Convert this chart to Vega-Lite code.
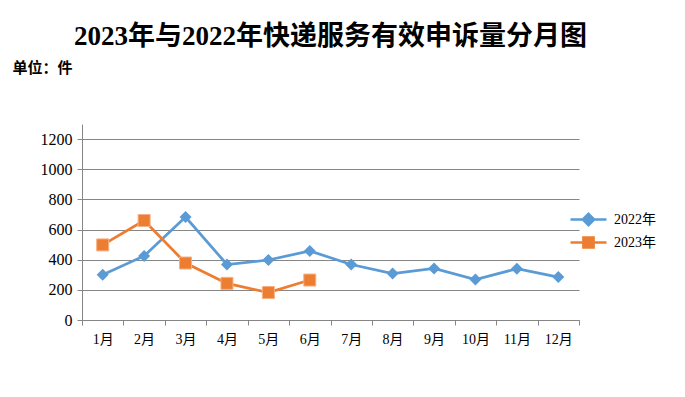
{
  "$schema": "https://vega.github.io/schema/vega-lite/v6.json",
  "width": 497,
  "height": 196,
  "autosize": "none",
  "padding": {"left": 82, "top": 124, "right": 106, "bottom": 77},
  "background": "white",
  "title": {
    "text": "2023年与2022年快递服务有效申诉量分月图",
    "font": "'Liberation Serif', 'Noto Sans CJK SC', serif",
    "fontSize": 27,
    "fontWeight": "bold",
    "color": "black",
    "anchor": "middle",
    "frame": "group",
    "offset": 9
  },
  "data": {
    "values": [
      {"month": 1, "year": "2022年", "value": 300},
      {"month": 2, "year": "2022年", "value": 425},
      {"month": 3, "year": "2022年", "value": 683},
      {"month": 4, "year": "2022年", "value": 368},
      {"month": 5, "year": "2022年", "value": 398},
      {"month": 6, "year": "2022年", "value": 458},
      {"month": 7, "year": "2022年", "value": 368},
      {"month": 8, "year": "2022年", "value": 308},
      {"month": 9, "year": "2022年", "value": 342},
      {"month": 10, "year": "2022年", "value": 268},
      {"month": 11, "year": "2022年", "value": 340},
      {"month": 12, "year": "2022年", "value": 285},
      {"month": 1, "year": "2023年", "value": 498},
      {"month": 2, "year": "2023年", "value": 660},
      {"month": 3, "year": "2023年", "value": 378},
      {"month": 4, "year": "2023年", "value": 243},
      {"month": 5, "year": "2023年", "value": 182},
      {"month": 6, "year": "2023年", "value": 265}
    ]
  },
  "encoding": {
    "x": {
      "field": "month",
      "type": "quantitative",
      "scale": {"domain": [0.5, 12.5], "nice": false, "zero": false},
      "axis": {
        "values": [0.5, 1.5, 2.5, 3.5, 4.5, 5.5, 6.5, 7.5, 8.5, 9.5, 10.5, 11.5, 12.5],
        "labelExpr": "datum.value < 12 ? (datum.value + 0.5) + '月' : ''",
        "labelOffset": 20.7,
        "labelAlign": "center",
        "labelFlush": false,
        "labelOverlap": false,
        "labelFont": "'Liberation Serif', 'Noto Sans CJK SC', serif",
        "labelFontSize": 14,
        "labelColor": "black",
        "labelPadding": 7,
        "grid": false,
        "domainColor": "#868686",
        "tickColor": "#868686",
        "tickSize": 5,
        "title": null
      }
    },
    "y": {
      "field": "value",
      "type": "quantitative",
      "scale": {"domain": [0, 1300], "nice": false},
      "axis": {
        "values": [0, 200, 400, 600, 800, 1000, 1200],
        "format": "d",
        "grid": true,
        "gridColor": "#868686",
        "gridWidth": 1,
        "domainColor": "#868686",
        "tickColor": "#868686",
        "tickSize": 5,
        "labelFont": "'Liberation Serif', serif",
        "labelFontSize": 16,
        "labelColor": "black",
        "labelPadding": 5,
        "title": "单位：件",
        "titleAngle": 0,
        "titleX": -70,
        "titleY": -57,
        "titleAlign": "left",
        "titleBaseline": "middle",
        "titleFont": "'Liberation Serif', 'Noto Sans CJK SC', serif",
        "titleFontSize": 15,
        "titleFontWeight": "bold",
        "titleColor": "black"
      }
    }
  },
  "layer": [
    {
      "transform": [{"filter": "datum.year === '2022年'"}],
      "encoding": {
        "color": {
          "field": "year",
          "type": "nominal",
          "scale": {"domain": ["2022年"], "range": ["#5B9BD5"]},
          "legend": {
            "orient": "none",
            "legendX": 499,
            "legendY": 88,
            "title": null,
            "padding": 0,
            "symbolType": "M-3,0H3M0,-0.95L0.95,0L0,0.95L-0.95,0Z",
            "symbolSize": 144,
            "symbolFillColor": "#5B9BD5",
            "symbolStrokeColor": "#5B9BD5",
            "symbolStrokeWidth": 2.5,
            "symbolOpacity": 1,
            "labelOffset": 18,
            "labelFont": "'Liberation Serif', 'Noto Sans CJK SC', serif",
            "labelFontSize": 14,
            "labelColor": "black"
          }
        }
      },
      "layer": [
        {"mark": {"type": "line", "strokeWidth": 2.75}},
        {"mark": {"type": "point", "shape": "diamond", "filled": true, "opacity": 1, "size": 144}}
      ]
    },
    {
      "transform": [{"filter": "datum.year === '2023年'"}],
      "encoding": {
        "color": {
          "field": "year",
          "type": "nominal",
          "scale": {"domain": ["2023年"], "range": ["#ED7D31"]},
          "legend": {
            "orient": "none",
            "legendX": 499,
            "legendY": 111,
            "title": null,
            "padding": 0,
            "symbolType": "M-3,0H3M-0.85,-0.85H0.85V0.85H-0.85Z",
            "symbolSize": 144,
            "symbolFillColor": "#ED7D31",
            "symbolStrokeColor": "#ED7D31",
            "symbolStrokeWidth": 2.5,
            "symbolOpacity": 1,
            "labelOffset": 18,
            "labelFont": "'Liberation Serif', 'Noto Sans CJK SC', serif",
            "labelFontSize": 14,
            "labelColor": "black"
          }
        }
      },
      "layer": [
        {"mark": {"type": "line", "strokeWidth": 2.75}},
        {"mark": {"type": "point", "shape": "square", "filled": true, "opacity": 1, "size": 144, "stroke": "#F4B183", "strokeWidth": 1}}
      ]
    }
  ],
  "resolve": {"scale": {"color": "independent"}},
  "config": {"view": {"stroke": null}}
}
